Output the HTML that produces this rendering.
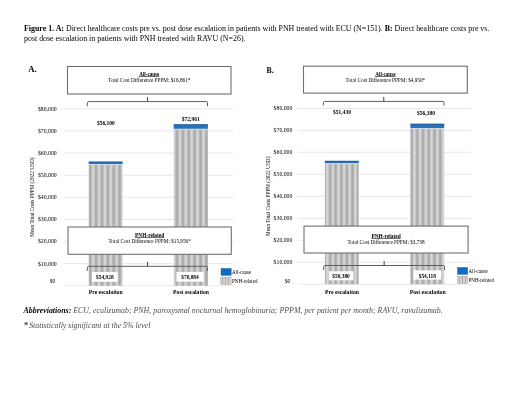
<!DOCTYPE html>
<html><head><meta charset="utf-8"><style>html,body{margin:0;padding:0;background:#fff;overflow:hidden}svg{display:block}</style></head><body>
<svg width="520" height="402" viewBox="0 0 520 402" font-family="'Liberation Serif','Times New Roman',serif">
<defs>
<linearGradient id="sg" x1="0" x2="5.67" y1="0" y2="0" gradientUnits="userSpaceOnUse">
<stop offset="0" stop-color="#bcbcbc"/><stop offset="0.23" stop-color="#a7a7a7"/><stop offset="0.35" stop-color="#a7a7a7"/><stop offset="0.69" stop-color="#d9d9d9"/><stop offset="0.79" stop-color="#d9d9d9"/><stop offset="1" stop-color="#bcbcbc"/>
</linearGradient>
<pattern id="lgs" patternUnits="userSpaceOnUse" x="0" y="0" width="3" height="10"><rect width="1.5" height="10" fill="#afafaf"/><rect x="1.5" width="1.5" height="10" fill="#d2d0cd"/></pattern>
</defs>
<rect width="520" height="402" fill="#fff"/>
<text x="24" y="31" font-size="7.9"><tspan font-weight="bold">Figure 1. A:</tspan> Direct healthcare costs pre vs. post dose escalation in patients with PNH treated with ECU (N=151). <tspan font-weight="bold">B:</tspan> Direct healthcare costs pre vs.</text>
<text x="24" y="41" font-size="7.9">post dose escalation in patients with PNH treated with RAVU (N=26).</text>
<text x="28.3" y="72.2" font-size="8.7" font-weight="bold">A.</text>
<rect x="63.5" y="108.3" width="170.1" height="1.0" fill="#e7e7e7" />
<text x="56.7" y="111" font-size="5.6" text-anchor="end" textLength="18.8" lengthAdjust="spacingAndGlyphs">$80,000</text>
<rect x="63.5" y="130.42" width="170.1" height="1.0" fill="#e7e7e7" />
<text x="56.7" y="133" font-size="5.6" text-anchor="end" textLength="18.8" lengthAdjust="spacingAndGlyphs">$70,000</text>
<rect x="63.5" y="152.54" width="170.1" height="1.0" fill="#e7e7e7" />
<text x="56.7" y="155" font-size="5.6" text-anchor="end" textLength="18.8" lengthAdjust="spacingAndGlyphs">$60,000</text>
<rect x="63.5" y="174.66" width="170.1" height="1.0" fill="#e7e7e7" />
<text x="56.7" y="177" font-size="5.6" text-anchor="end" textLength="18.8" lengthAdjust="spacingAndGlyphs">$50,000</text>
<rect x="63.5" y="196.78" width="170.1" height="1.0" fill="#e7e7e7" />
<text x="56.7" y="199" font-size="5.6" text-anchor="end" textLength="18.8" lengthAdjust="spacingAndGlyphs">$40,000</text>
<rect x="63.5" y="218.9" width="170.1" height="1.0" fill="#e7e7e7" />
<text x="56.7" y="221" font-size="5.6" text-anchor="end" textLength="18.8" lengthAdjust="spacingAndGlyphs">$30,000</text>
<rect x="63.5" y="241.02" width="170.1" height="1.0" fill="#e7e7e7" />
<text x="56.7" y="243" font-size="5.6" text-anchor="end" textLength="18.8" lengthAdjust="spacingAndGlyphs">$20,000</text>
<rect x="63.5" y="263.14" width="170.1" height="1.0" fill="#e7e7e7" />
<text x="56.7" y="266" font-size="5.6" text-anchor="end" textLength="18.8" lengthAdjust="spacingAndGlyphs">$10,000</text>
<rect x="63.5" y="285.26" width="170.1" height="1.0" fill="#e9e9e9" />
<text x="55.4" y="283" font-size="5.6" text-anchor="end">$0</text>
<text transform="translate(32.5,197.1) rotate(-90)" text-anchor="middle" font-size="5.3" y="1.8">Mean Total Costs PPPM (2022 USD)</text>
<rect x="88.7" y="164.26" width="33.9" height="121.5" fill="url(#sta_88)" />
<linearGradient id="sga_88" x1="0" x2="5.9" y1="0" y2="0" gradientUnits="userSpaceOnUse"><stop offset="0" stop-color="#bfbfbf"/><stop offset="0.17" stop-color="#a8a8a8"/><stop offset="0.33" stop-color="#a8a8a8"/><stop offset="0.67" stop-color="#d9d9d9"/><stop offset="0.83" stop-color="#d9d9d9"/><stop offset="1" stop-color="#bfbfbf"/></linearGradient>
<pattern id="sta_88" patternUnits="userSpaceOnUse" x="88.725" y="0" width="5.9" height="10"><rect width="5.9" height="10" fill="url(#sga_88)"/></pattern>
<rect x="88.7" y="161.67" width="33.9" height="2.59" fill="#2b71b8" />
<rect x="88.7" y="161.67" width="33.9" height="0.8" fill="#1f5c9c" />
<rect x="88.7" y="164.06" width="33.9" height="0.9" fill="#d6e2ef" />
<rect x="173.7" y="128.96" width="34.2" height="156.8" fill="url(#sta_173)" />
<linearGradient id="sga_173" x1="0" x2="5.9" y1="0" y2="0" gradientUnits="userSpaceOnUse"><stop offset="0" stop-color="#bfbfbf"/><stop offset="0.17" stop-color="#a8a8a8"/><stop offset="0.33" stop-color="#a8a8a8"/><stop offset="0.67" stop-color="#d9d9d9"/><stop offset="0.83" stop-color="#d9d9d9"/><stop offset="1" stop-color="#bfbfbf"/></linearGradient>
<pattern id="sta_173" patternUnits="userSpaceOnUse" x="175.525" y="0" width="5.9" height="10"><rect width="5.9" height="10" fill="url(#sga_173)"/></pattern>
<rect x="173.7" y="124.37" width="34.2" height="4.59" fill="#2b71b8" />
<rect x="173.7" y="124.37" width="34.2" height="0.8" fill="#1f5c9c" />
<rect x="173.7" y="128.76" width="34.2" height="0.9" fill="#d6e2ef" />
<rect x="67.5" y="66.5" width="163.5" height="27.5" fill="#fff" stroke="#707070" stroke-width="1.1"/>
<text x="149.25" y="76" font-size="5.1" font-weight="bold" text-anchor="middle">All-cause</text>
<rect x="139.15" y="76.1" width="20.2" height="0.65" fill="#222" />
<text x="149.25" y="82" font-size="5.24" text-anchor="middle">Total Cost Difference PPPM: $16,861*</text>
<rect x="68.0" y="227.0" width="163.3" height="27.30000000000001" fill="#fff" stroke="#707070" stroke-width="1.1"/>
<text x="149.65" y="237" font-size="5.4" font-weight="bold" text-anchor="middle">PNH-related</text>
<rect x="135.05" y="237.1" width="29.2" height="0.65" fill="#222" />
<text x="149.65" y="243" font-size="5.24" text-anchor="middle">Total Cost Difference PPPM: $15,956*</text>
<path d="M87.2 106.4 L87.5 102.6 Q87.5 101.6 88.5 101.6 L206.5 101.6 Q207.5 101.6 207.5 102.6 L207.5 106.4" fill="none" stroke="#5e5e5e" stroke-width="1"/>
<path d="M147.5 101.6 L147.5 97.0" fill="none" stroke="#333" stroke-width="0.9"/>
<path d="M87.2 271 L87.5 267.3 Q87.5 266.3 88.5 266.3 L206.5 266.3 Q207.5 266.3 207.5 267.3 L207.5 271" fill="none" stroke="#5e5e5e" stroke-width="1"/>
<path d="M147.5 266.3 L147.5 261.7" fill="none" stroke="#333" stroke-width="0.9"/>
<text x="105.9" y="125" font-size="5.5" font-weight="bold" text-anchor="middle">$56,100</text>
<text x="190.8" y="121" font-size="5.5" font-weight="bold" text-anchor="middle">$72,961</text>
<rect x="92" y="272" width="25.7" height="9.7" fill="#fff" />
<text x="104.85" y="279" font-size="5.4" font-weight="bold" text-anchor="middle">$54,928</text>
<rect x="176.4" y="271.9" width="27.2" height="9.7" fill="#fff" />
<text x="190.0" y="279" font-size="5.4" font-weight="bold" text-anchor="middle">$70,884</text>
<rect x="221.0" y="268.40000000000003" width="10.2" height="7.0" fill="#0f6cc2" stroke="#2a5f95" stroke-width="0.4"/>
<rect x="220.8" y="277.1" width="10.3" height="7.4" fill="url(#lgs)" stroke="#9a9a9a" stroke-width="0.4"/>
<text x="232.0" y="274.0" font-size="5.2" textLength="19.2" lengthAdjust="spacingAndGlyphs">All-cause</text>
<text x="232.0" y="283.0" font-size="5.2" textLength="25.4" lengthAdjust="spacingAndGlyphs">PNH-related</text>
<text x="105.7" y="294" font-size="5.7" font-weight="bold" text-anchor="middle">Pre escalation</text>
<text x="191" y="294" font-size="5.7" font-weight="bold" text-anchor="middle">Post escalation</text>
<text x="266.6" y="73" font-size="8.7" font-weight="bold" textLength="7.2" lengthAdjust="spacingAndGlyphs">B.</text>
<rect x="297.5" y="107.8" width="173.2" height="1.0" fill="#e7e7e7" />
<text x="292.4" y="110" font-size="5.6" text-anchor="end" textLength="18.8" lengthAdjust="spacingAndGlyphs">$80,000</text>
<rect x="297.5" y="129.8" width="173.2" height="1.0" fill="#e7e7e7" />
<text x="292.4" y="132" font-size="5.6" text-anchor="end" textLength="18.8" lengthAdjust="spacingAndGlyphs">$70,000</text>
<rect x="297.5" y="151.8" width="173.2" height="1.0" fill="#e7e7e7" />
<text x="292.4" y="154" font-size="5.6" text-anchor="end" textLength="18.8" lengthAdjust="spacingAndGlyphs">$60,000</text>
<rect x="297.5" y="173.8" width="173.2" height="1.0" fill="#e7e7e7" />
<text x="292.4" y="176" font-size="5.6" text-anchor="end" textLength="18.8" lengthAdjust="spacingAndGlyphs">$50,000</text>
<rect x="297.5" y="195.8" width="173.2" height="1.0" fill="#e7e7e7" />
<text x="292.4" y="198" font-size="5.6" text-anchor="end" textLength="18.8" lengthAdjust="spacingAndGlyphs">$40,000</text>
<rect x="297.5" y="217.8" width="173.2" height="1.0" fill="#e7e7e7" />
<text x="292.4" y="220" font-size="5.6" text-anchor="end" textLength="18.8" lengthAdjust="spacingAndGlyphs">$30,000</text>
<rect x="297.5" y="239.8" width="173.2" height="1.0" fill="#e7e7e7" />
<text x="292.4" y="242" font-size="5.6" text-anchor="end" textLength="18.8" lengthAdjust="spacingAndGlyphs">$20,000</text>
<rect x="297.5" y="261.8" width="173.2" height="1.0" fill="#e7e7e7" />
<text x="292.4" y="264" font-size="5.6" text-anchor="end" textLength="18.8" lengthAdjust="spacingAndGlyphs">$10,000</text>
<rect x="297.5" y="283.8" width="173.2" height="1.0" fill="#e9e9e9" />
<text x="290.4" y="282.5" font-size="5.6" text-anchor="end">$0</text>
<text transform="translate(267.7,196.3) rotate(-90)" text-anchor="middle" font-size="5.3" y="1.8">Mean Total Costs PPPM (2022 USD)</text>
<rect x="324.9" y="163.46" width="33.8" height="120.84" fill="url(#stb_324)" />
<linearGradient id="sgb_324" x1="0" x2="5.58" y1="0" y2="0" gradientUnits="userSpaceOnUse"><stop offset="0" stop-color="#bfbfbf"/><stop offset="0.17" stop-color="#a8a8a8"/><stop offset="0.33" stop-color="#a8a8a8"/><stop offset="0.67" stop-color="#d9d9d9"/><stop offset="0.83" stop-color="#d9d9d9"/><stop offset="1" stop-color="#bfbfbf"/></linearGradient>
<pattern id="stb_324" patternUnits="userSpaceOnUse" x="323.205" y="0" width="5.58" height="10"><rect width="5.58" height="10" fill="url(#sgb_324)"/></pattern>
<rect x="324.9" y="160.88" width="33.8" height="2.58" fill="#2b71b8" />
<rect x="324.9" y="160.88" width="33.8" height="0.8" fill="#1f5c9c" />
<rect x="324.9" y="163.26" width="33.8" height="0.9" fill="#d6e2ef" />
<rect x="410.4" y="128.36" width="33.8" height="155.94" fill="url(#stb_410)" />
<linearGradient id="sgb_410" x1="0" x2="5.75" y1="0" y2="0" gradientUnits="userSpaceOnUse"><stop offset="0" stop-color="#bfbfbf"/><stop offset="0.17" stop-color="#a8a8a8"/><stop offset="0.33" stop-color="#a8a8a8"/><stop offset="0.67" stop-color="#d9d9d9"/><stop offset="0.83" stop-color="#d9d9d9"/><stop offset="1" stop-color="#bfbfbf"/></linearGradient>
<pattern id="stb_410" patternUnits="userSpaceOnUse" x="410.062" y="0" width="5.75" height="10"><rect width="5.75" height="10" fill="url(#sgb_410)"/></pattern>
<rect x="410.4" y="123.79" width="33.8" height="4.57" fill="#2b71b8" />
<rect x="410.4" y="123.79" width="33.8" height="0.8" fill="#1f5c9c" />
<rect x="410.4" y="128.16" width="33.8" height="0.9" fill="#d6e2ef" />
<rect x="303.5" y="66.2" width="163.8" height="26.89999999999999" fill="#fff" stroke="#707070" stroke-width="1.1"/>
<text x="385.4" y="76" font-size="5.1" font-weight="bold" text-anchor="middle">All-cause</text>
<rect x="375.3" y="76.1" width="20.2" height="0.65" fill="#222" />
<text x="385.4" y="82" font-size="5.24" text-anchor="middle">Total Cost Difference PPPM: $4,950*</text>
<rect x="304.0" y="226.1" width="164.10000000000002" height="26.900000000000006" fill="#fff" stroke="#707070" stroke-width="1.1"/>
<text x="386.05" y="238" font-size="5.4" font-weight="bold" text-anchor="middle">PNH-related</text>
<rect x="371.45" y="238.1" width="29.2" height="0.65" fill="#222" />
<text x="386.05" y="244" font-size="5.24" text-anchor="middle">Total Cost Difference PPPM: $3,738</text>
<path d="M323.2 105.5 L323.5 102.4 Q323.5 101.4 324.5 101.4 L443 101.4 Q444 101.4 444 102.4 L444 105.5" fill="none" stroke="#5e5e5e" stroke-width="1"/>
<path d="M383.75 101.4 L383.75 97" fill="none" stroke="#333" stroke-width="0.9"/>
<path d="M323.5 270 L323.8 266.5 Q323.8 265.5 324.8 265.5 L443.5 265.5 Q444.5 265.5 444.5 266.5 L444.5 270" fill="none" stroke="#5e5e5e" stroke-width="1"/>
<path d="M384.15 265.5 L384.15 261" fill="none" stroke="#333" stroke-width="0.9"/>
<text x="342" y="114" font-size="5.5" font-weight="bold" text-anchor="middle">$51,430</text>
<text x="426" y="115" font-size="5.5" font-weight="bold" text-anchor="middle">$56,380</text>
<rect x="328.8" y="271.3" width="24.5" height="9.0" fill="#fff" />
<text x="341.05" y="278" font-size="5.4" font-weight="bold" text-anchor="middle">$50,380</text>
<rect x="413.5" y="270.4" width="27.7" height="9.2" fill="#fff" />
<text x="427.35" y="278" font-size="5.4" font-weight="bold" text-anchor="middle">$54,118</text>
<rect x="457.5" y="267.40000000000003" width="10.2" height="7.0" fill="#0f6cc2" stroke="#2a5f95" stroke-width="0.4"/>
<rect x="457.3" y="276.1" width="10.3" height="7.4" fill="url(#lgs)" stroke="#9a9a9a" stroke-width="0.4"/>
<text x="468.5" y="273.0" font-size="5.2" textLength="19.2" lengthAdjust="spacingAndGlyphs">All-cause</text>
<text x="468.5" y="282.0" font-size="5.2" textLength="25.4" lengthAdjust="spacingAndGlyphs">PNH-related</text>
<text x="342" y="293.6" font-size="5.7" font-weight="bold" text-anchor="middle">Pre escalation</text>
<text x="427.7" y="293.6" font-size="5.7" font-weight="bold" text-anchor="middle">Post escalation</text>
<text x="23.5" y="313" font-size="7.9" font-style="italic" fill="#4d4d4d"><tspan font-weight="bold" fill="#000">Abbreviations:</tspan> ECU, eculizumab; PNH, paroxysmal nocturnal hemoglobinuria; PPPM, per patient per month; RAVU, ravulizumab.</text>
<text x="24.0" y="328" font-size="8.5" font-weight="bold" fill="#333">*</text>
<text x="29.2" y="328" font-size="7.9" font-style="italic" fill="#4d4d4d" textLength="121.2" lengthAdjust="spacingAndGlyphs">Statistically significant at the 5% level</text>
</svg>
</body></html>
